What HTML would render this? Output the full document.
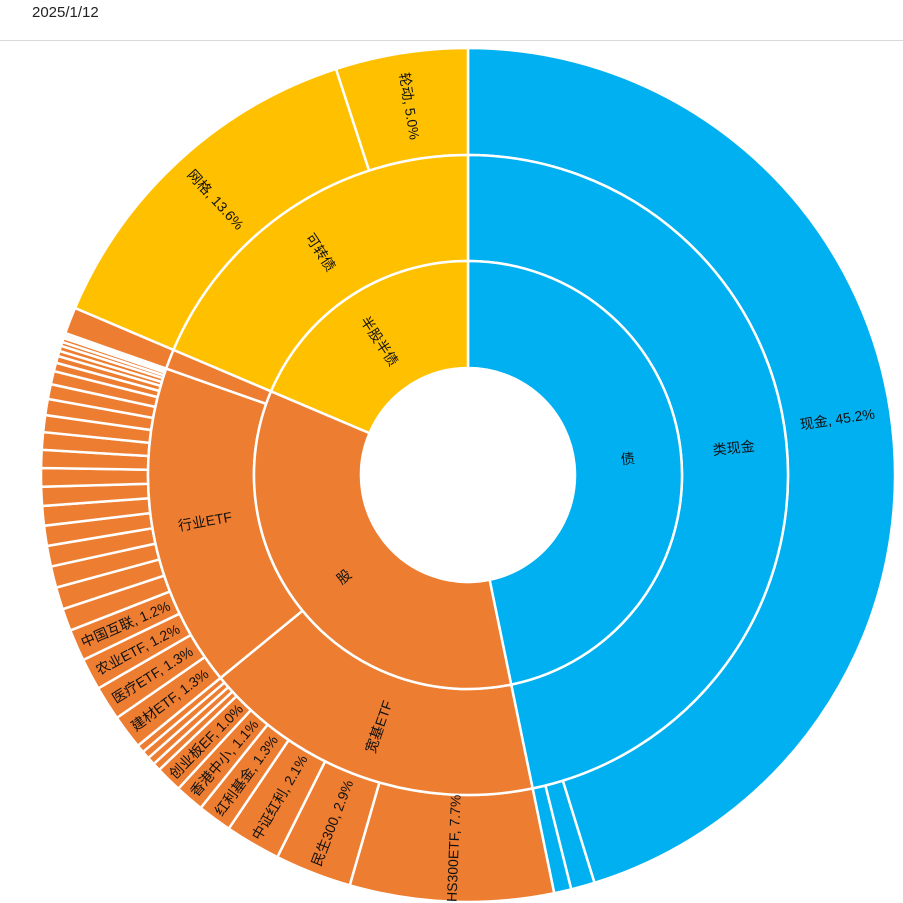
<!DOCTYPE html>
<html><head><meta charset="utf-8"><style>
body{margin:0;background:#fff;width:903px;height:903px;overflow:hidden;font-family:"Liberation Sans","Noto Sans CJK SC",sans-serif}
#hdr{position:absolute;left:32px;top:4px;font-size:15px;color:#222}
#rule{position:absolute;left:0;top:40px;width:903px;height:1px;background:#d9d9d9}
svg{position:absolute;left:0;top:0}
</style></head><body>
<div id="hdr">2025/1/12</div>
<div id="rule"></div>
<svg id="chart" width="903" height="903"></svg>
<script>
const innerNames = ["债","股","半股半债"];
const innerColors = ["#00B0F0","#ED7D31","#FFC000"];
const middleNames = ["类现金","宽基ETF","行业ETF","","可转债"];
const middleParents = [0,1,1,1,2];
const outerNames = ["现金, 45.2%","","",
 "HS300ETF, 7.7%","民生300, 2.9%","中证红利, 2.1%","红利基金, 1.3%","香港中小, 1.1%","创业板EF, 1.0%","","","","",
 "建材ETF, 1.3%","医疗ETF, 1.3%","农业ETF, 1.2%","中国互联, 1.2%","","","","","","","","","","","","","","","","","","","","","","",
 "",
 "网格, 13.6%","轮动, 5.0%"];
const outerValues = [45.2,0.9,0.65,
 7.7,2.9,2.1,1.3,1.1,1.0,0.3,0.3,0.3,0.3,
 1.3,1.3,1.2,1.2,0.84,0.84,0.81,0.78,0.76,0.74,0.72,0.7,0.68,0.66,0.64,0.61,0.56,0.5,0.32,0.26,0.2,0.2,0.15,0.15,0.1,0.1,
 1.0,
 13.6,5.0];
const outerParents = [0,0,0, 1,1,1,1,1,1,1,1,1,1, 2,2,2,2,2,2,2,2,2,2,2,2,2,2,2,2,2,2,2,2,2,2,2,2,2,2, 3, 4,4];

const cx=468, cy=475, R0=107, R1=214, R2=320, R3=427;
const svg=document.getElementById('chart');
const NS="http://www.w3.org/2000/svg";
const total=outerValues.reduce((a,b)=>a+b,0);
function pt(r,a){const t=a*Math.PI/180;return [cx+r*Math.sin(t),cy-r*Math.cos(t)];}
function arc(r0,r1,a0,a1){
  const large=(a1-a0)>180?1:0;
  const p0=pt(r1,a0),p1=pt(r1,a1),p2=pt(r0,a1),p3=pt(r0,a0);
  return `M${p0[0]},${p0[1]}A${r1},${r1} 0 ${large} 1 ${p1[0]},${p1[1]}L${p2[0]},${p2[1]}A${r0},${r0} 0 ${large} 0 ${p3[0]},${p3[1]}Z`;
}
function label(text,r,a,name){
  if(!text) return;
  const p=pt(r,a);
  let rot = (a<180)? a-90 : a+90;
  const t=document.createElementNS(NS,'text');
  
  
  t.setAttribute('x',p[0]);t.setAttribute('y',p[1]);
  t.setAttribute('text-anchor','middle');t.setAttribute('dominant-baseline','central');
  t.setAttribute('font-size','14');t.setAttribute('fill','#111');
  t.setAttribute('transform',`rotate(${rot} ${p[0]} ${p[1]})`);
  t.textContent=text;svg.appendChild(t);
}
function seg(r0,r1,a0,a1,color,name){
  const p=document.createElementNS(NS,'path');
  
  
  p.setAttribute('d',arc(r0,r1,a0,a1));
  p.setAttribute('fill',color);p.setAttribute('stroke','#fff');p.setAttribute('stroke-width','2.5');
  svg.appendChild(p);
}
const midSum=middleNames.map(()=>0), inSum=innerNames.map(()=>0);
outerValues.forEach((v,i)=>{midSum[outerParents[i]]+=v;});
midSum.forEach((v,i)=>{inSum[middleParents[i]]+=v;});
let a=0;
const labelsQ=[];
outerValues.forEach((v,i)=>{
  const a1=a+v/total*360;
  const col=innerColors[middleParents[outerParents[i]]];
  seg(R2,R3,a,a1,col,'outer-slice-'+i);
  labelsQ.push([outerNames[i],(R2+R3)/2,(a+a1)/2,'outer-label-'+i]);
  a=a1;
});
a=0;
midSum.forEach((v,i)=>{
  const a1=a+v/total*360;
  seg(R1,R2,a,a1,innerColors[middleParents[i]],'middle-slice-'+i);
  labelsQ.push([middleNames[i],(R1+R2)/2,(a+a1)/2,'middle-label-'+i]);
  a=a1;
});
a=0;
inSum.forEach((v,i)=>{
  const a1=a+v/total*360;
  seg(R0,R1,a,a1,innerColors[i],'inner-slice-'+i);
  labelsQ.push([innerNames[i],(R0+R1)/2,(a+a1)/2,'inner-label-'+i]);
  a=a1;
});
labelsQ.forEach(l=>label(l[0],l[1],l[2],l[3]));
</script>
</body></html>
